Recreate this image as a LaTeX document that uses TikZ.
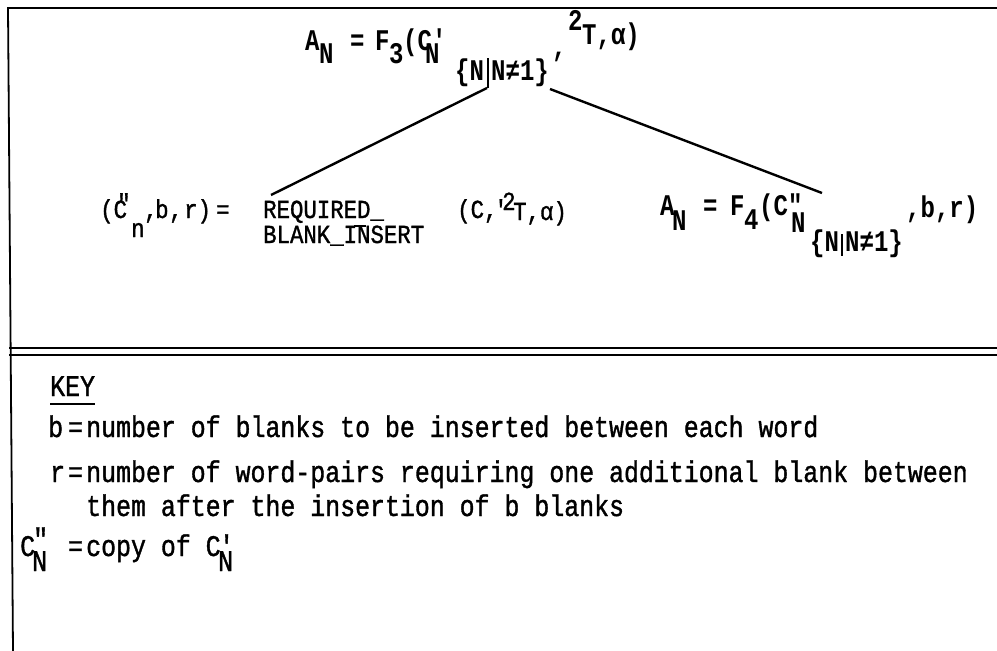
\documentclass[tikz,border=0pt]{standalone}
\usepackage{fontspec}
\newfontfamily\monoB{Liberation Mono}[FakeStretch=0.8]
\newfontfamily\monoM{Liberation Mono}[FakeStretch=0.86,FakeBold=1.2]
\newfontfamily\monoK{Liberation Mono}[FakeStretch=0.83,FakeBold=1.2]
\newcommand\fontF{\monoB\bfseries\fontsize{30}{30}\selectfont}
\newcommand\fontM{\monoM\fontsize{26}{26}\selectfont}
\newcommand\fontK{\monoK\fontsize{30}{30}\selectfont}
\tikzset{
  fb/.style={inner sep=0pt, anchor=base west, font=\fontF},
  fm/.style={inner sep=0pt, anchor=base west, font=\fontM},
  fk/.style={inner sep=0pt, anchor=base west, font=\fontK},
  conn/.style={line width=2.4pt},
  frame/.style={line width=1.8pt},
  bar/.style={line width=1.6pt},
}
\begin{document}
\begin{tikzpicture}[x=1pt,y=-1pt]
\useasboundingbox (0,0) rectangle (997,651);
% frame
\draw[frame] (997,8) -- (8,8) -- (13,651);
\draw[frame] (9,348) -- (997,348);
\draw[frame] (9,355) -- (997,355);
% top formula
\node[fb] (tA) at (305,50) {A};
\node[fb] (tAN) at (319,63) {N};
\node[fb] (tEq) at (350,50) {=};
\node[fb] (tF) at (375,50) {F};
\node[fb] (tF3) at (389,63) {3};
\node[fb] (tC) at (403,50) {(C'};
\node[fb] (tCN) at (425,63) {N};
\node[fb] (tS1) at (455,80) {\{N};
\draw[bar] (488,58) -- (488,88);
\node[fb] (tS2) at (491,80) {N≠1\}};
\node[fb] (tCm) at (552,56) {,};
\node[fb] (t2) at (568,30) {2};
\node[fb] (tT) at (582,44) {T,α)};
% connectors
\coordinate (tL) at (487,88);
\coordinate (tR) at (550,89);
\coordinate (mL) at (271,195);
\coordinate (fR) at (822,193);
\draw[conn] (tL) -- (mL);
\draw[conn] (tR) -- (fR);
% middle left formula
\node[fm] (mC) at (100,218) {(C};
\node[fm] (mq) at (117,212) {"};
\node[fm] (mn) at (131,237) {n};
\node[fm] (mc1) at (144,218) {,};
\node[fm] (mb) at (155,218) {b};
\node[fm] (mc2) at (169,218) {,};
\node[fm] (mr) at (184,218) {r)};
\node[fm] (meq) at (216,218) {=};
\node[fm] (mreq) at (263,218) {REQUIRED\_};
\node[fm] (mbl) at (263,243) {BLANK\_INSERT};
\draw[bar] (354,226) -- (366,226);
\node[fm] (mC2) at (457,218) {(C,};
\node[fm] (mpr) at (494,218) {'};
\node[fm] (m2) at (502,210) {2};
\node[fm] (mT) at (513,220) {T,α)};
% F4 formula
\node[fb] (fA) at (660,215) {A};
\node[fb] (fAN) at (672,230) {N};
\node[fb] (fEq) at (703,215) {=};
\node[fb] (fF) at (730,215) {F};
\node[fb] (f4) at (744,229) {4};
\node[fb] (fC) at (759,215) {(C"};
\node[fb] (fCN) at (791,232) {N};
\node[fb] (fS1) at (810,251) {\{N};
\draw[bar] (842,234) -- (842,256);
\node[fb] (fS2) at (845,251) {N≠1\}};
\node[fb] (fbr) at (906,217) {,b,r)};
% key
\node[fk] (key) at (50,396) {KEY};
\draw[line width=1.4pt] (50,404) -- (95,404);
\node[fk] (kb) at (48,437) {b};
\node[fk] (kbeq) at (68,437) {=};
\node[fk] (kbt) at (86,437) {number of blanks to be inserted between each word};
\node[fk] (kr) at (50,482) {r};
\node[fk] (kreq) at (68,482) {=};
\node[fk] (krt) at (86,482) {number of word-pairs requiring one additional blank between};
\node[fk] (kth) at (86,516) {them after the insertion of b blanks};
\node[fk] (kc) at (20,556) {C};
\node[fk] (kcq) at (33,549) {"};
\node[fk] (kcn) at (32,571) {N};
\node[fk] (kceq) at (68,556) {=};
\node[fk] (kct) at (86,556) {copy of C};
\node[fk] (kcp) at (219,556) {'};
\node[fk] (kcn2) at (218,571) {N};
\end{tikzpicture}
\end{document}
